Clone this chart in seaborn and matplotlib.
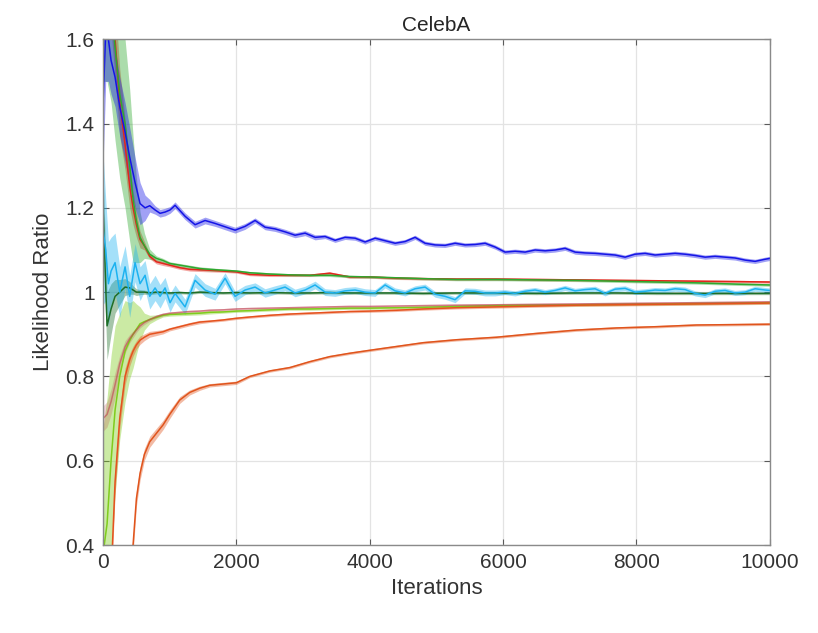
import numpy as np
import matplotlib
matplotlib.use("Agg")
import matplotlib.pyplot as plt
import seaborn as sns
from matplotlib.ticker import FuncFormatter

# dense grid for the two noisy curves (blue, cyan)
iters_dense = [0, 40, 80, 120, 180, 250, 330, 400, 480, 555, 630, 700, 780, 855, 930, 1005, 1080,
               1230, 1380, 1530, 1680, 1830, 1980, 2130, 2280, 2430, 2580, 2730, 2880, 3030, 3180,
               3330, 3480, 3630, 3780, 3930, 4080, 4230, 4380, 4530, 4680, 4830, 4980, 5130, 5280,
               5430, 5580, 5730, 5880, 6030, 6180, 6330, 6480, 6630, 6780, 6930, 7080, 7230, 7380,
               7530, 7680, 7830, 7980, 8130, 8280, 8430, 8580, 8730, 8880, 9030, 9180, 9330, 9480,
               9630, 9780, 9930, 10000]

blue_mean = [1.45, 1.62, 1.60, 1.55, 1.51, 1.44, 1.38, 1.32, 1.26, 1.21, 1.20, 1.205, 1.195, 1.187, 1.19, 1.195, 1.206,
             1.18, 1.16, 1.17, 1.163, 1.155, 1.147, 1.156, 1.17, 1.154, 1.15, 1.143, 1.135, 1.14, 1.13,
             1.132, 1.123, 1.13, 1.128, 1.119, 1.128, 1.122, 1.116, 1.12, 1.13, 1.116, 1.112, 1.111, 1.116,
             1.112, 1.113, 1.116, 1.107, 1.095, 1.097, 1.095, 1.10, 1.098, 1.10, 1.104, 1.095, 1.093, 1.092,
             1.09, 1.088, 1.083, 1.09, 1.092, 1.088, 1.09, 1.092, 1.09, 1.087, 1.083, 1.085, 1.083, 1.081,
             1.076, 1.073, 1.078, 1.08]
blue_band = [0.15, 0.12, 0.10, 0.08, 0.07, 0.07, 0.07, 0.07, 0.06, 0.05, 0.03, 0.015, 0.01, 0.009, 0.009, 0.008, 0.008,
             0.008, 0.008, 0.008, 0.007, 0.007, 0.007, 0.007, 0.006, 0.006, 0.006, 0.006, 0.006, 0.006, 0.006,
             0.005, 0.005, 0.005, 0.005, 0.005, 0.005, 0.005, 0.005, 0.005, 0.005, 0.005, 0.005, 0.005, 0.005,
             0.005, 0.005, 0.005, 0.005, 0.005, 0.005, 0.005, 0.005, 0.005, 0.005, 0.005, 0.005, 0.005, 0.005,
             0.005, 0.005, 0.005, 0.005, 0.005, 0.005, 0.005, 0.005, 0.005, 0.005, 0.005, 0.005, 0.005, 0.005,
             0.005, 0.005, 0.005, 0.005]

cyan_mean = [1.15, 1.10, 1.02, 1.05, 1.07, 1.0, 1.06, 0.99, 1.07, 1.02, 1.04, 0.99, 1.01, 0.99, 1.01, 0.975, 0.997,
             0.965, 1.028, 1.005, 0.995, 1.033, 0.99, 1.005, 1.012, 0.998, 1.005, 1.012, 0.998, 1.005, 1.017,
             1.0, 0.998, 1.003, 1.005, 1.0, 0.998, 1.017, 1.003, 0.998, 1.008, 1.012, 0.995, 0.99, 0.982,
             1.003, 1.002, 0.998, 0.998, 1.0, 0.997, 1.002, 1.005, 1.0, 1.004, 1.01, 1.003, 1.006, 1.008,
             0.997, 1.007, 1.009, 1.0, 1.002, 1.005, 1.004, 1.008, 1.006, 0.997, 0.993, 1.002, 1.004, 0.998,
             1.0, 1.008, 1.005, 1.004]
cyan_band = [0.18, 0.12, 0.10, 0.08, 0.07, 0.06, 0.05, 0.05, 0.045, 0.04, 0.035, 0.03, 0.03, 0.028, 0.025, 0.022, 0.02,
             0.018, 0.016, 0.015, 0.014, 0.013, 0.012, 0.011, 0.01, 0.01, 0.01, 0.009, 0.009, 0.009, 0.009,
             0.008, 0.008, 0.008, 0.008, 0.008, 0.008, 0.007, 0.007, 0.007, 0.007, 0.007, 0.007, 0.007, 0.007,
             0.007, 0.007, 0.007, 0.007, 0.006, 0.006, 0.006, 0.006, 0.006, 0.006, 0.006, 0.006, 0.006, 0.006,
             0.006, 0.006, 0.006, 0.006, 0.006, 0.006, 0.006, 0.006, 0.006, 0.006, 0.006, 0.006, 0.006, 0.006,
             0.006, 0.006, 0.006, 0.006]

# coarse grid for the smooth curves
iters = [0, 60, 120, 180, 250, 330, 400, 450, 500, 555, 620, 700, 800, 900, 1000, 1150, 1300, 1450, 1600,
         1800, 2000, 2200, 2500, 2800, 3100, 3400, 3700, 4000, 4400, 4800, 5300, 5900, 6500, 7100, 7700,
         8300, 8900, 9500, 10000]

red_mean = [1.7, 1.75, 1.72, 1.6, 1.45, 1.35, 1.25, 1.2, 1.16, 1.125, 1.11, 1.085, 1.072, 1.068, 1.064, 1.058, 1.054, 1.053, 1.052,
            1.05, 1.048, 1.042, 1.04, 1.04, 1.04, 1.045, 1.036, 1.036, 1.033, 1.032, 1.031, 1.031, 1.03, 1.029, 1.028,
            1.027, 1.026, 1.025, 1.024]
red_band = [0.1, 0.1, 0.1, 0.09, 0.08, 0.06, 0.05, 0.04, 0.03, 0.02, 0.01, 0.006, 0.005, 0.005, 0.004, 0.004, 0.004, 0.004, 0.004,
            0.003, 0.003, 0.003, 0.003, 0.003, 0.003, 0.003, 0.003, 0.003, 0.003, 0.003, 0.003, 0.003, 0.003, 0.003, 0.003,
            0.003, 0.003, 0.003, 0.003]

green_mean = [1.75, 1.75, 1.7, 1.58, 1.47, 1.40, 1.30, 1.22, 1.17, 1.13, 1.11, 1.09, 1.08, 1.075, 1.068, 1.064, 1.06, 1.056, 1.054,
              1.052, 1.05, 1.046, 1.043, 1.041, 1.04, 1.04, 1.037, 1.036, 1.034, 1.032, 1.03, 1.03, 1.029, 1.028, 1.026,
              1.024, 1.022, 1.019, 1.017]
green_band = [0.25, 0.25, 0.25, 0.22, 0.2, 0.2, 0.18, 0.15, 0.1, 0.06, 0.03, 0.012, 0.006, 0.005, 0.004, 0.004, 0.004, 0.004, 0.004,
              0.003, 0.003, 0.003, 0.003, 0.003, 0.003, 0.003, 0.003, 0.003, 0.003, 0.003, 0.003, 0.003, 0.003, 0.003, 0.003,
              0.003, 0.003, 0.003, 0.003]

dkgreen_mean = [1.2, 0.92, 0.96, 0.99, 1.0, 1.012, 1.01, 1.005, 1.0, 1.0, 1.0, 0.998, 1.0, 0.999, 0.998, 0.999, 0.998, 1.0, 0.999,
                0.998, 0.999, 0.998, 0.999, 0.998, 0.998, 0.999, 0.998, 0.998, 0.998, 0.997, 0.998, 0.998, 0.997, 0.998, 0.998,
                0.997, 0.997, 0.997, 0.997]
dkgreen_band = [0.08, 0.08, 0.06, 0.04, 0.03, 0.02, 0.015, 0.01, 0.008, 0.006, 0.005, 0.004, 0.004, 0.003, 0.003, 0.003, 0.003, 0.003, 0.003,
                0.003, 0.003, 0.003, 0.003, 0.003, 0.003, 0.003, 0.003, 0.003, 0.003, 0.003, 0.003, 0.003, 0.003, 0.003, 0.003,
                0.003, 0.003, 0.003, 0.003]

lime_mean = [0.38, 0.45, 0.60, 0.72, 0.80, 0.86, 0.885, 0.90, 0.912, 0.925, 0.93, 0.935, 0.94, 0.945, 0.947, 0.948, 0.949, 0.95, 0.952,
             0.953, 0.955, 0.956, 0.958, 0.96, 0.96, 0.961, 0.962, 0.962, 0.963, 0.964, 0.966, 0.968, 0.969, 0.97, 0.971,
             0.972, 0.973, 0.974, 0.975]
lime_band = [0.3, 0.3, 0.25, 0.2, 0.15, 0.12, 0.09, 0.08, 0.06, 0.04, 0.02, 0.01, 0.006, 0.004, 0.004, 0.004, 0.004, 0.004, 0.004,
             0.003, 0.003, 0.003, 0.003, 0.003, 0.003, 0.003, 0.003, 0.003, 0.003, 0.003, 0.003, 0.003, 0.003, 0.003, 0.003,
             0.003, 0.003, 0.003, 0.003]

dkred_mean = [0.70, 0.71, 0.74, 0.78, 0.83, 0.87, 0.89, 0.90, 0.91, 0.92, 0.928, 0.935, 0.942, 0.947, 0.95, 0.952, 0.954, 0.955, 0.957,
              0.958, 0.96, 0.961, 0.962, 0.963, 0.964, 0.965, 0.966, 0.966, 0.967, 0.968, 0.969, 0.97, 0.971, 0.972, 0.973,
              0.974, 0.975, 0.976, 0.977]
dkred_band = [0.03, 0.03, 0.03, 0.03, 0.02, 0.015, 0.01, 0.008, 0.006, 0.005, 0.005, 0.004, 0.004, 0.004, 0.003, 0.003, 0.003, 0.003, 0.003,
              0.003, 0.003, 0.003, 0.003, 0.003, 0.003, 0.003, 0.003, 0.003, 0.003, 0.003, 0.003, 0.003, 0.003, 0.003, 0.003,
              0.003, 0.003, 0.003, 0.003]

orange_mean = [0.2, 0.25, 0.32, 0.55, 0.70, 0.80, 0.84, 0.86, 0.875, 0.886, 0.893, 0.90, 0.903, 0.906, 0.912, 0.918, 0.924, 0.929, 0.931,
               0.934, 0.938, 0.941, 0.945, 0.948, 0.95, 0.952, 0.954, 0.955, 0.957, 0.96, 0.963, 0.965, 0.967, 0.969, 0.97,
               0.971, 0.972, 0.973, 0.974]
orange_band = [0.03, 0.03, 0.03, 0.03, 0.025, 0.02, 0.015, 0.012, 0.01, 0.01, 0.008, 0.007, 0.006, 0.005, 0.004, 0.004, 0.004, 0.004, 0.003,
               0.003, 0.003, 0.003, 0.003, 0.003, 0.003, 0.003, 0.003, 0.003, 0.003, 0.003, 0.003, 0.003, 0.003, 0.003, 0.003,
               0.003, 0.003, 0.003, 0.003]

orange2_mean = [0.05, 0.08, 0.1, 0.14, 0.2, 0.27, 0.33, 0.40, 0.51, 0.57, 0.615, 0.645, 0.665, 0.685, 0.71, 0.744, 0.762, 0.772, 0.779,
                0.782, 0.785, 0.80, 0.813, 0.821, 0.835, 0.847, 0.855, 0.862, 0.871, 0.88, 0.887, 0.893, 0.902, 0.91, 0.915,
                0.918, 0.922, 0.923, 0.924]
orange2_band = [0.03, 0.03, 0.03, 0.03, 0.03, 0.025, 0.02, 0.02, 0.018, 0.016, 0.014, 0.013, 0.012, 0.011, 0.01, 0.008, 0.006, 0.005, 0.004,
                0.004, 0.004, 0.003, 0.003, 0.003, 0.003, 0.003, 0.003, 0.003, 0.003, 0.003, 0.003, 0.003, 0.003, 0.003, 0.003,
                0.003, 0.003, 0.003, 0.003]

y_ticks = [0.4, 0.6, 0.8, 1.0, 1.2, 1.4, 1.6]
x_ticks = [0, 2000, 4000, 6000, 8000, 10000]

sns.set_style("whitegrid")
plt.rcParams['font.family'] = ['Liberation Sans', 'DejaVu Sans']

fig = plt.figure(figsize=(8.18, 6.33), dpi=100)
ax = fig.add_axes([0.126, 0.139, 0.815, 0.799])

curves = [
    (iters, lime_mean, lime_band, '#7fcc1c', 1.0),
    (iters, dkred_mean, dkred_band, '#c04050', 0.6),
    (iters, orange_mean, orange_band, '#e5521e', 1.0),
    (iters, orange2_mean, orange2_band, '#e0541c', 1.0),
    (iters, red_mean, red_band, '#e2261c', 1.0),
    (iters, green_mean, green_band, '#2ea82e', 1.0),
    (iters, dkgreen_mean, dkgreen_band, '#1e6e28', 1.0),
    (iters_dense, cyan_mean, cyan_band, '#1cb2f0', 1.0),
    (iters_dense, blue_mean, blue_band, '#1414e6', 1.0),
]

for xs, mean, band, color, a in curves:
    m = np.array(mean)
    b = np.array(band)
    ax.fill_between(xs, m - b, m + b, color=color, alpha=0.4 * a, linewidth=0)
    sns.lineplot(x=xs, y=mean, color=color, alpha=a, linewidth=1.1, ax=ax)

ax.set_xlim(0, 10000)
ax.set_ylim(0.4, 1.6)
ax.set_xticks(x_ticks)
ax.set_yticks(y_ticks)
ax.yaxis.set_major_formatter(FuncFormatter(lambda v, p: f"{v:g}"))

ax.grid(True, color='#e3e3e3', linewidth=0.9)
ax.set_axisbelow(True)
for s in ax.spines.values():
    s.set_color('#8a8a8a')
    s.set_linewidth(1.0)
ax.tick_params(direction='in', length=4, width=0.8, color='#5a5a5a',
               labelsize=15, labelcolor='#333333', pad=6,
               top=True, right=True, bottom=True, left=True)

ax.set_title("CelebA", fontsize=15, color='#262626', pad=6)
ax.set_xlabel("Iterations", fontsize=16, color='#333333', labelpad=4)
ax.set_ylabel("Likelihood Ratio", fontsize=16, color='#333333', labelpad=8)

fig.savefig("out.png", dpi=100, facecolor='white')
